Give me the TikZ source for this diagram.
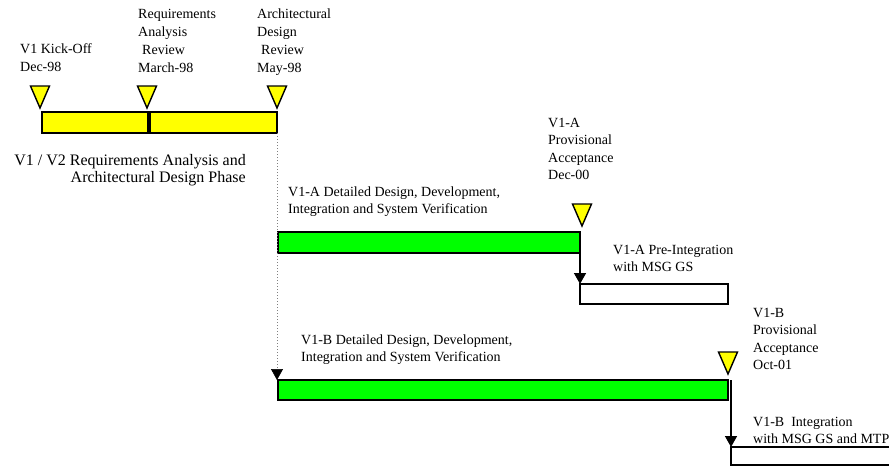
\documentclass[tikz,border=0pt]{standalone}
\usepackage{fontspec}
\setmainfont{Liberation Serif}
\usetikzlibrary{arrows.meta,calc}
\definecolor{msyellow}{RGB}{255,255,0}
\definecolor{msgreen}{RGB}{0,255,0}
\tikzset{
  barbox/.style={draw=black, line width=1.2pt, inner sep=0pt, outer sep=0pt, anchor=north west},
  ybar/.style={barbox, fill=msyellow},
  gbar/.style={barbox, fill=msgreen},
  wbar/.style={barbox, fill=white},
  milestone/.style={draw=black, fill=msyellow, line width=1.4pt, line join=miter},
  lbl/.style={inner sep=0pt, anchor=base west, align=left, font=\fontsize{14}{17.5}\selectfont},
  toplbl/.style={lbl, font=\fontsize{14}{18}\selectfont},
  connarrow/.style={draw=black, line width=1.5pt, -{Triangle[width=12pt,length=11pt]}},
  dotarrow/.style={draw=gray, line width=0.5pt, dash pattern=on 1pt off 2pt, -{Triangle[width=12pt,length=11pt,black,fill=black]}},
}
\begin{document}
\begin{tikzpicture}[x=1pt,y=-1pt]
\useasboundingbox (0,0) rectangle (889,466);
\clip (0,0) rectangle (889,466);

% bars
\node[ybar, minimum width=106pt, minimum height=21pt] (b1) at (42,112) {};
\node[ybar, minimum width=127pt, minimum height=21pt] (b2) at (150,112) {};
\node[gbar, minimum width=302pt, minimum height=21pt] (gA) at (278,232) {};
\node[wbar, minimum width=148pt, minimum height=20pt] (wA) at (580,284) {};
\node[gbar, minimum width=450pt, minimum height=20pt] (gB) at (278,380) {};
\node[wbar, minimum width=180pt, minimum height=18pt] (wB) at (731,447) {};

% milestones
\foreach \ax/\ay in {40/108, 147/108, 277/108, 582/226, 728/374}{
  \draw[milestone] (\ax-9.5,\ay-22) -- (\ax+9.5,\ay-22) -- (\ax,\ay) -- cycle;
}

% connectors
\draw[dotarrow] (b2.south east) -- (b2.south east |- gB.north);
\draw[connarrow] (gA.north east) -- (gA.north east |- wA.north);
\coordinate (gBr) at ($(gB.north east)+(3,0)$);
\draw[connarrow] (gBr) -- (gBr |- wB.north);

% labels (anchor = baseline of last line)
\node[toplbl] (t1) at (20,71) {V1 Kick-Off\\Dec-98};
\node[toplbl] (t2) at (138,72.5) {Requirements\\Analysis\\\hspace*{4pt}Review\\March-98};
\node[toplbl] (t3) at (257,72.5) {Architectural\\Design\\\hspace*{4pt}Review\\May-98};
\node[inner sep=0pt, anchor=base east, align=right, font=\fontsize{16}{16.8}\selectfont] (ph) at (246,182.5) {V1 / V2 Requirements Analysis and\\Architectural Design Phase};
\node[lbl] (ta) at (548,179.5) {V1-A\\Provisional\\Acceptance\\Dec-00};
\node[lbl, font=\fontsize{14}{17}\selectfont] (da) at (288,213) {V1-A Detailed Design, Development,\\Integration and System Verification};
\node[lbl, font=\fontsize{14}{17}\selectfont] (pa) at (613,271) {V1-A Pre-Integration\\with MSG GS};
\node[lbl] (tb) at (753,369.5) {V1-B\\Provisional\\Acceptance\\Oct-01};
\node[lbl, font=\fontsize{14}{17}\selectfont] (db) at (301,361) {V1-B Detailed Design, Development,\\Integration and System Verification};
\node[lbl, font=\fontsize{14}{16.5}\selectfont] (ib) at (753,443) {V1-B~~Integration\\with MSG GS and MTP};
\end{tikzpicture}
\end{document}
